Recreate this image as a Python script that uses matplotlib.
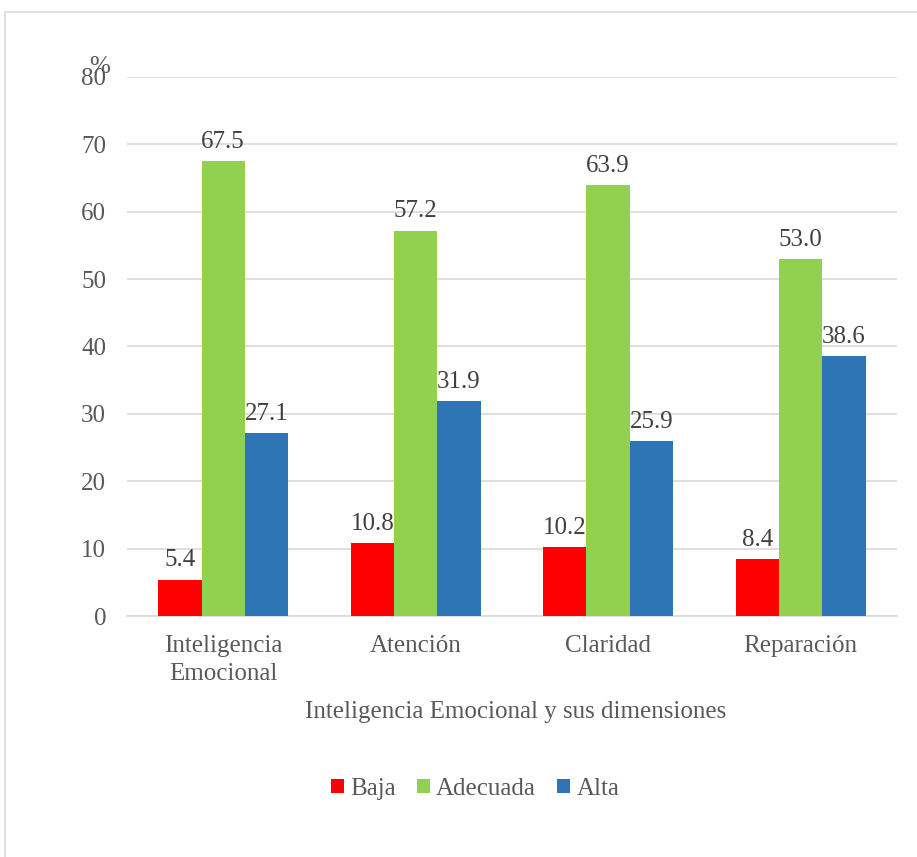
import matplotlib.pyplot as plt
import numpy as np
from matplotlib.patches import Rectangle

categorias = ['Inteligencia\nEmocional', 'Atención', 'Claridad', 'Reparación']
baja = [5.4, 10.8, 10.2, 8.4]
adecuada = [67.5, 57.2, 63.9, 53.0]
alta = [27.1, 31.9, 25.9, 38.6]
series = ['Baja', 'Adecuada', 'Alta']
colores = ['#FF0000', '#92D050', '#2E75B6']

plt.rcParams['font.family'] = ['Liberation Serif', 'DejaVu Serif']
gris = '#595959'
fs = 18

fig = plt.figure(figsize=(9.17, 8.57), dpi=100)
ax = fig.add_axes([0.1385, 0.2812, 0.8395, 0.629])

# marco del grafico
fig.patches.append(Rectangle((5 / 917, -0.01), 1.0, 1 - 12 / 857 + 0.01,
                             transform=fig.transFigure, fill=False,
                             edgecolor='#d9d9d9', linewidth=1.2))

x = np.arange(len(categorias))
w = 0.225
for i, (datos, nombre, c) in enumerate(zip([baja, adecuada, alta], series, colores)):
    barras = ax.bar(x + (i - 1) * w, datos, w, color=c, label=nombre, zorder=3)
    for b, v in zip(barras, datos):
        ax.annotate('%.1f' % v, (b.get_x() + b.get_width() / 2, v),
                    xytext=(0, 6), textcoords='offset points',
                    ha='center', va='bottom', fontsize=fs, color='#404040')

ax.set_xlim(-0.5, 3.5)
ax.set_ylim(0, 80)
ax.set_yticks(range(0, 81, 10))
ax.yaxis.grid(True, color='#d9d9d9', linewidth=1.2, zorder=0)
ax.set_axisbelow(True)
for s in ['top', 'right', 'left']:
    ax.spines[s].set_visible(False)
ax.spines['bottom'].set_color('#d9d9d9')
ax.spines['bottom'].set_linewidth(1.2)
ax.tick_params(axis='both', length=0, labelsize=fs, labelcolor=gris)
ax.tick_params(axis='y', pad=15)
ax.tick_params(axis='x', pad=14)
ax.set_xticks(x)
ax.set_xticklabels(categorias, linespacing=1.35)

fig.text(100 / 917, 1 - 67 / 857, '%', fontsize=fs, color=gris,
         ha='center', va='center')
fig.text(516 / 917, 1 - 712 / 857, 'Inteligencia Emocional y sus dimensiones',
         fontsize=fs, color=gris, ha='center', va='center')

fig.legend(loc='center', bbox_to_anchor=(475 / 917, 1 - 789 / 857), ncol=3,
           frameon=False, fontsize=fs, labelcolor=gris, handlelength=0.52,
           handleheight=0.52, handletextpad=0.25, columnspacing=0.85)

fig.savefig('out.png', dpi=100)
